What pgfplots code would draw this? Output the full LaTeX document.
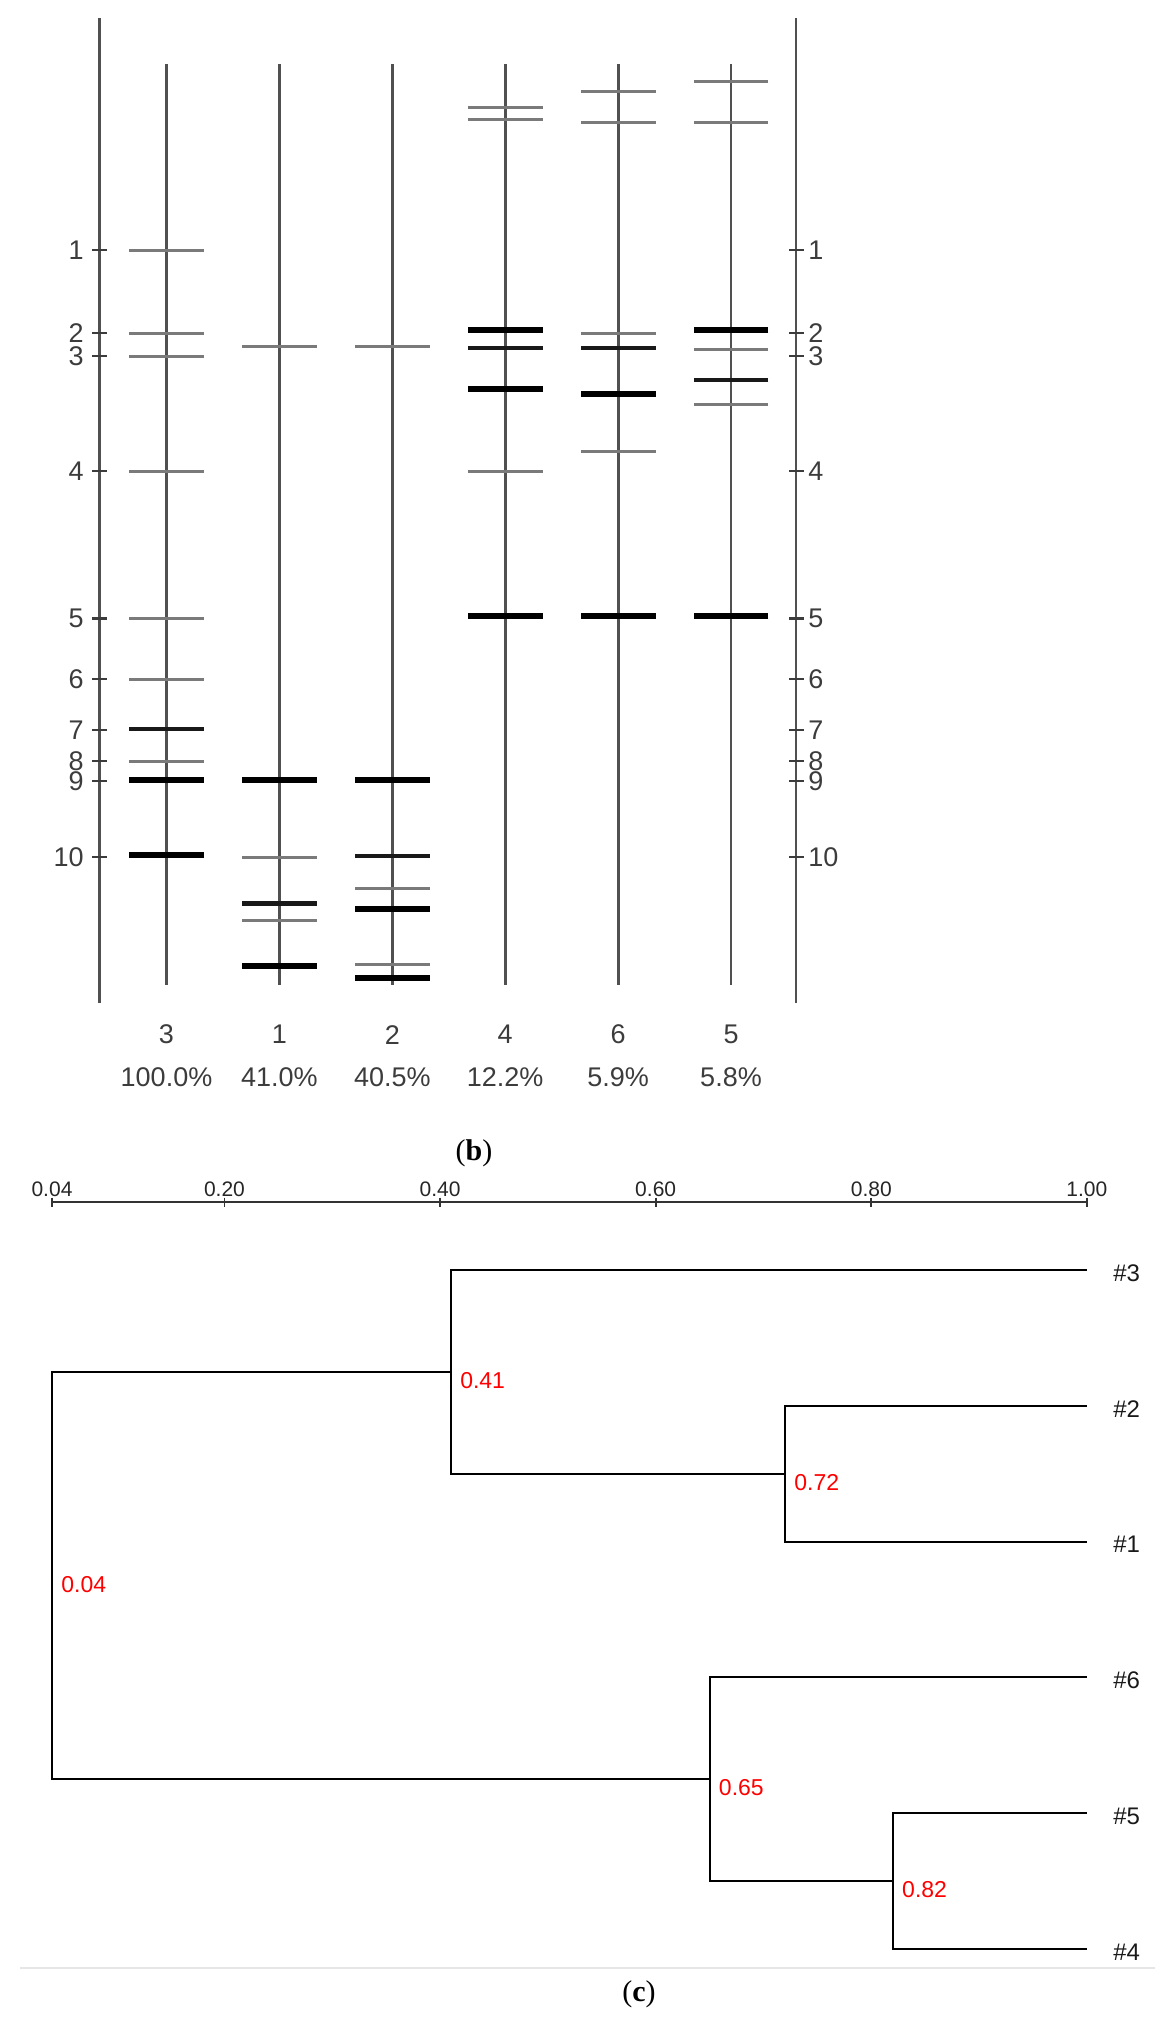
\documentclass[border=0pt]{standalone}
\usepackage{pgfplots}
\pgfplotsset{compat=1.18}
\usepackage{fontspec}
\setmainfont{Liberation Sans}
\newfontfamily\capfont{Liberation Serif}
\definecolor{lane}{HTML}{505050}
\definecolor{thinband}{HTML}{7A7A7A}
\definecolor{lbl}{HTML}{3C3C3C}
\definecolor{sep}{HTML}{E6E6E6}

% band positions: lane slot (1..6 = samples 3,1,2,4,6,5), migration (px from top)
\pgfplotstableread{
x y
1 250
1 333
1 356
1 471
1 618.6
1 679
1 761
2 346
2 857
2 920.7
3 346
3 888
3 964
4 107
4 119.6
4 471
5 91
5 122
5 333
5 451
6 81.4
6 122
6 349
6 404
}\thinbands
\pgfplotstableread{
x y
1 729
2 903.6
3 856
4 348
5 348
6 380
}\midbands
\pgfplotstableread{
x y
1 780
1 855
2 780
2 965.7
3 780
3 908.6
3 978
4 330
4 389
4 616
5 394
5 616
6 330
6 616
}\heavybands

\begin{document}
\begin{tikzpicture}
\path (0,0) rectangle (583pt,-1014.5pt);

%% (b) band patterns
\begin{axis}[at={(0pt,0pt)}, anchor=north west, scale only axis,
  width=583pt, height=550pt, hide axis, clip=false,
  xmin=-0.4748, xmax=9.8529, ymin=0, ymax=1100, y dir=reverse]
\addplot[lane, line width=1.4pt, unbounded coords=jump] coordinates {
  (1,64) (1,985) (nan,nan) (2,64) (2,985) (nan,nan) (3,64) (3,985) (nan,nan)
  (4,64) (4,985) (nan,nan) (5,64) (5,985) (nan,nan) (6,64) (6,985)};
\addplot[lane, line width=1.4pt, unbounded coords=jump] coordinates {
  (0.4066,18) (0.4066,1002.5) (nan,nan) (6.5757,18) (6.5757,1002.5)};
\addplot[only marks, mark=-, mark size=3.75pt, line width=1.3pt, lbl] coordinates {
  (0.4066,250) (0.4066,333) (0.4066,356) (0.4066,471) (0.4066,618.6)
  (0.4066,679) (0.4066,730) (0.4066,761) (0.4066,781) (0.4066,857)
  (6.5757,250) (6.5757,333) (6.5757,356) (6.5757,471) (6.5757,618.6)
  (6.5757,679) (6.5757,730) (6.5757,761) (6.5757,781) (6.5757,857)};
\addplot[only marks, mark=-, mark size=18.7pt, line width=1.5pt, thinband] table {\thinbands};
\addplot[only marks, mark=-, mark size=18.7pt, line width=2.3pt, black!90] table {\midbands};
\addplot[only marks, mark=-, mark size=18.7pt, line width=3pt, black] table {\heavybands};

\tikzset{lab/.style={text=lbl, inner sep=0pt, font=\fontsize{13.5}{15}\selectfont}}
\node[lab, anchor=east, xshift=-7.75pt] at (axis cs:0.4066,250) {1};
\node[lab, anchor=east, xshift=-7.75pt] at (axis cs:0.4066,333) {2};
\node[lab, anchor=east, xshift=-7.75pt] at (axis cs:0.4066,356) {3};
\node[lab, anchor=east, xshift=-7.75pt] at (axis cs:0.4066,471) {4};
\node[lab, anchor=east, xshift=-7.75pt] at (axis cs:0.4066,618.6) {5};
\node[lab, anchor=east, xshift=-7.75pt] at (axis cs:0.4066,679) {6};
\node[lab, anchor=east, xshift=-7.75pt] at (axis cs:0.4066,730) {7};
\node[lab, anchor=east, xshift=-7.75pt] at (axis cs:0.4066,761) {8};
\node[lab, anchor=east, xshift=-7.75pt] at (axis cs:0.4066,781) {9};
\node[lab, anchor=east, xshift=-7.75pt] at (axis cs:0.4066,857) {10};
\node[lab, anchor=west, xshift=6pt] at (axis cs:6.5757,250) {1};
\node[lab, anchor=west, xshift=6pt] at (axis cs:6.5757,333) {2};
\node[lab, anchor=west, xshift=6pt] at (axis cs:6.5757,356) {3};
\node[lab, anchor=west, xshift=6pt] at (axis cs:6.5757,471) {4};
\node[lab, anchor=west, xshift=6pt] at (axis cs:6.5757,618.6) {5};
\node[lab, anchor=west, xshift=6pt] at (axis cs:6.5757,679) {6};
\node[lab, anchor=west, xshift=6pt] at (axis cs:6.5757,730) {7};
\node[lab, anchor=west, xshift=6pt] at (axis cs:6.5757,761) {8};
\node[lab, anchor=west, xshift=6pt] at (axis cs:6.5757,781) {9};
\node[lab, anchor=west, xshift=6pt] at (axis cs:6.5757,857) {10};

\node[lab] at (axis cs:1,1034.6) {3};
\node[lab] at (axis cs:2,1034.6) {1};
\node[lab] at (axis cs:3,1034.6) {2};
\node[lab] at (axis cs:4,1034.6) {4};
\node[lab] at (axis cs:5,1034.6) {6};
\node[lab] at (axis cs:6,1034.6) {5};
\node[lab] at (axis cs:1,1077.5) {100.0\%};
\node[lab] at (axis cs:2,1077.5) {41.0\%};
\node[lab] at (axis cs:3,1077.5) {40.5\%};
\node[lab] at (axis cs:4,1077.5) {12.2\%};
\node[lab] at (axis cs:5,1077.5) {5.9\%};
\node[lab] at (axis cs:6,1077.5) {5.8\%};
\end{axis}

%% (c) dendrogram, x = similarity, y = leaf slot
\begin{axis}[at={(0pt,-550pt)}, anchor=north west, scale only axis,
  width=583pt, height=464.5pt, hide axis, clip=false,
  xmin=-0.008237, xmax=1.073396, ymin=-0.2518, ymax=6.5891, y dir=reverse]
\addplot[black!80, line width=0.9pt] coordinates {(0.04,0.5) (1.00,0.5)};
\addplot[only marks, mark=|, mark size=2.3pt, line width=0.9pt, black!80] coordinates {
  (0.04,0.5) (0.20,0.5) (0.40,0.5) (0.60,0.5) (0.80,0.5) (1.00,0.5)};
\addplot[black, line width=1pt, unbounded coords=jump] coordinates {
  (1.00,1) (0.41,1) (0.41,2.5) (0.72,2.5) (nan,nan)
  (1.00,2) (0.72,2) (0.72,3) (1.00,3) (nan,nan)
  (0.41,1.75) (0.04,1.75) (0.04,4.75) (0.65,4.75) (nan,nan)
  (1.00,4) (0.65,4) (0.65,5.5) (0.82,5.5) (nan,nan)
  (1.00,5) (0.82,5) (0.82,6) (1.00,6)};

\tikzset{tl/.style={text=black!85, inner sep=0pt, font=\fontsize{10.5}{12}\selectfont},
  nd/.style={text=red, inner sep=0pt, anchor=north west, xshift=4.5pt, font=\fontsize{11.5}{13}\selectfont},
  lf/.style={text=black!90, inner sep=0pt, anchor=west, xshift=13pt, yshift=-1.5pt, font=\fontsize{12}{14}\selectfont}}
\node[tl] at (axis cs:0.04,0.4035) {0.04};
\node[tl] at (axis cs:0.20,0.4035) {0.20};
\node[tl] at (axis cs:0.40,0.4035) {0.40};
\node[tl] at (axis cs:0.60,0.4035) {0.60};
\node[tl] at (axis cs:0.80,0.4035) {0.80};
\node[tl] at (axis cs:1.00,0.4035) {1.00};

\node[nd] at (axis cs:0.41,1.75) {0.41};
\node[nd] at (axis cs:0.72,2.5) {0.72};
\node[nd] at (axis cs:0.04,3.25) {0.04};
\node[nd] at (axis cs:0.65,4.75) {0.65};
\node[nd] at (axis cs:0.82,5.5) {0.82};

\node[lf] at (axis cs:1.00,1) {\#3};
\node[lf] at (axis cs:1.00,2) {\#2};
\node[lf] at (axis cs:1.00,3) {\#1};
\node[lf] at (axis cs:1.00,4) {\#6};
\node[lf] at (axis cs:1.00,5) {\#5};
\node[lf] at (axis cs:1.00,6) {\#4};

\node[font=\capfont\fontsize{15}{18}\selectfont] at (axis cs:0.4315,0.1385) {(\textbf{b})};
\draw[sep, line width=1pt] (axis cs:0.0103,6.140) -- (axis cs:1.0632,6.140);
\node[font=\capfont\fontsize{15}{18}\selectfont] at (axis cs:0.5845,6.331) {(\textbf{c})};
\end{axis}
\end{tikzpicture}
\end{document}
